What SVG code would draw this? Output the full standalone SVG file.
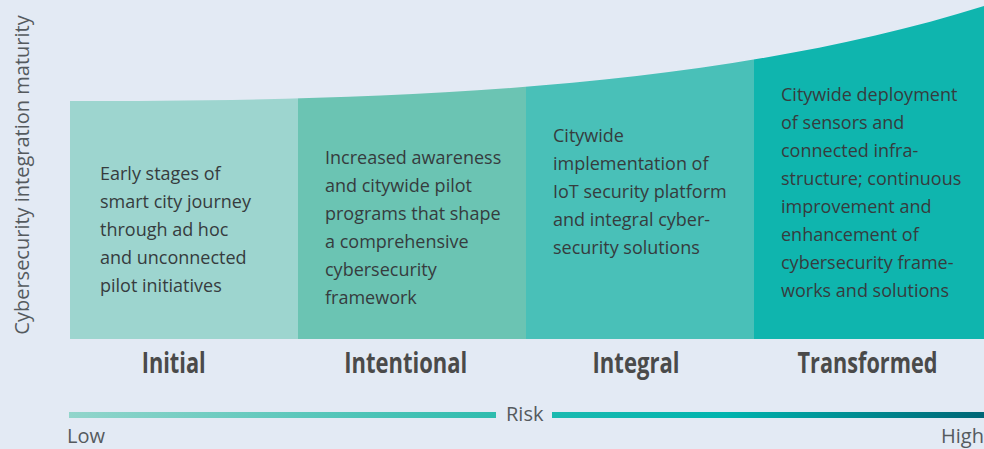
<svg xmlns="http://www.w3.org/2000/svg" width="984" height="449" viewBox="0 0 984 449">
  <style>
    .body { font-family: "Open Sans", "Liberation Sans", sans-serif; font-size: 18px; fill: #363c3e; }
    .stage { font-family: "Open Sans", "Liberation Sans", sans-serif; font-size: 29px; font-weight: 700; fill: #4a4a4a; text-anchor: middle; }
    .axis { font-family: "Open Sans", "Liberation Sans", sans-serif; font-size: 20px; fill: #555a5e; }
  </style>
  <defs>
    <clipPath id="curveClip">
      <path d="M70,101 C350,101 700,95 984,6 L984,339 L70,339 Z"/>
    </clipPath>
    <linearGradient id="riskLeft" x1="0" y1="0" x2="1" y2="0">
      <stop offset="0" stop-color="#92d5cb"/>
      <stop offset="1" stop-color="#2ebcae"/>
    </linearGradient>
    <linearGradient id="riskRight" x1="0" y1="0" x2="1" y2="0">
      <stop offset="0" stop-color="#1bbab0"/>
      <stop offset="0.4" stop-color="#00b4ae"/>
      <stop offset="1" stop-color="#006676"/>
    </linearGradient>
  </defs>
  <rect x="0" y="0" width="984" height="449" fill="#e3eaf4"/>

  <g id="columns" clip-path="url(#curveClip)">
    <g id="initial">
      <rect x="70" y="0" width="228" height="339" fill="#9dd5cf"/>
    </g>
    <g id="intentional">
      <rect x="298" y="0" width="228" height="339" fill="#6bc4b3"/>
    </g>
    <g id="integral">
      <rect x="526" y="0" width="228" height="339" fill="#49c0b8"/>
    </g>
    <g id="transformed">
      <rect x="754" y="0" width="230" height="339" fill="#0fb5ae"/>
    </g>
  </g>

  <g id="initial-text" class="body">
    <text x="100" y="180">Early stages of</text>
    <text x="100" y="208">smart city journey</text>
    <text x="100" y="236">through ad hoc</text>
    <text x="100" y="264">and unconnected</text>
    <text x="100" y="292">pilot initiatives</text>
  </g>
  <g id="intentional-text" class="body">
    <text x="325" y="164">Increased awareness</text>
    <text x="325" y="192">and citywide pilot</text>
    <text x="325" y="220">programs that shape</text>
    <text x="325" y="248">a comprehensive</text>
    <text x="325" y="276">cybersecurity</text>
    <text x="325" y="304">framework</text>
  </g>
  <g id="integral-text" class="body">
    <text x="553" y="142">Citywide</text>
    <text x="553" y="170">implementation of</text>
    <text x="553" y="198">IoT security platform</text>
    <text x="553" y="226">and integral cyber-</text>
    <text x="553" y="254">security solutions</text>
  </g>
  <g id="transformed-text" class="body">
    <text x="781" y="101">Citywide deployment</text>
    <text x="781" y="129">of sensors and</text>
    <text x="781" y="157">connected infra-</text>
    <text x="781" y="185">structure; continuous</text>
    <text x="781" y="213">improvement and</text>
    <text x="781" y="241">enhancement of</text>
    <text x="781" y="269">cybersecurity frame-</text>
    <text x="781" y="297">works and solutions</text>
  </g>

  <g id="stage-labels" class="stage">
    <text x="173.7" y="373" textLength="64" lengthAdjust="spacingAndGlyphs">Initial</text>
    <text x="405.7" y="373" textLength="123" lengthAdjust="spacingAndGlyphs">Intentional</text>
    <text x="636" y="373" textLength="87" lengthAdjust="spacingAndGlyphs">Integral</text>
    <text x="867.5" y="373" textLength="140" lengthAdjust="spacingAndGlyphs">Transformed</text>
  </g>

  <g id="axis-label">
    <text class="axis" transform="translate(29,175) rotate(-90)" text-anchor="middle">Cybersecurity integration maturity</text>
  </g>

  <g id="risk-scale">
    <rect x="69" y="412" width="427" height="6" fill="url(#riskLeft)"/>
    <rect x="552" y="412" width="432" height="6" fill="url(#riskRight)"/>
    <text class="axis" x="506" y="421">Risk</text>
    <text class="axis" x="67" y="443">Low</text>
    <text class="axis" x="984" y="443" text-anchor="end">High</text>
  </g>
</svg>
